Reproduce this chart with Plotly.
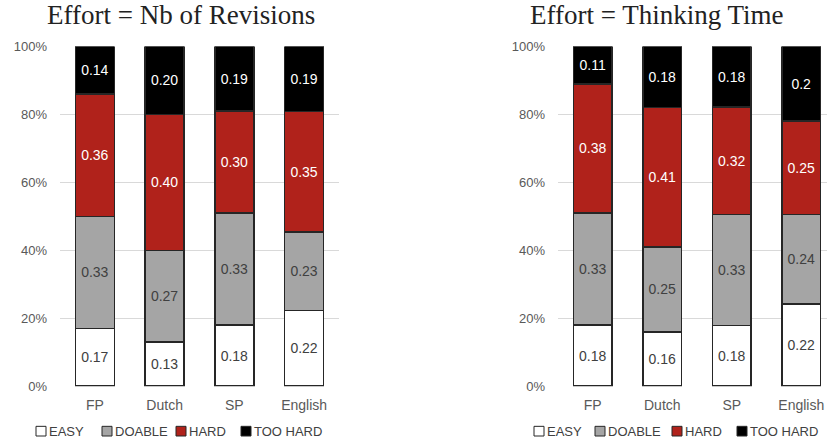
import plotly.graph_objects as go

categories = ["FP", "Dutch", "SP", "English"]
levels = ["EASY", "DOABLE", "HARD", "TOO HARD"]
colors = ["#ffffff", "#a5a5a5", "#b0221b", "#000000"]
label_colors = ["#404040", "#404040", "#ffffff", "#ffffff"]

# Effort measured as number of revisions
revisions = {
    "EASY": [0.17, 0.13, 0.18, 0.22],
    "DOABLE": [0.33, 0.27, 0.33, 0.23],
    "HARD": [0.36, 0.40, 0.30, 0.35],
    "TOO HARD": [0.14, 0.20, 0.19, 0.19],
}
# Effort measured as thinking time
thinking = {
    "EASY": [0.18, 0.16, 0.18, 0.22],
    "DOABLE": [0.33, 0.25, 0.33, 0.24],
    "HARD": [0.38, 0.41, 0.32, 0.25],
    "TOO HARD": [0.11, 0.18, 0.18, 0.2],
}
titles = ["Effort = Nb of Revisions", "Effort = Thinking Time"]

W, H = 827, 444
def px(x):
    return x / W
def py(y):
    return 1 - y / H

fig = go.Figure()
panels = [(revisions, "x", "y", lambda v: f"{v:.2f}"),
          (thinking, "x2", "y2", lambda v: f"{v:g}")]
for data, xa, ya, fmt in panels:
    for lvl, col, lcol in zip(levels, colors, label_colors):
        vals = data[lvl]
        fig.add_trace(go.Bar(
            x=categories, y=vals, name=lvl, xaxis=xa, yaxis=ya,
            marker=dict(color=col, line=dict(color="#262626", width=1.5)),
            text=[fmt(v) for v in vals], textposition="inside",
            insidetextanchor="middle", textangle=0,
            textfont=dict(family="Liberation Sans, Arial", size=14, color=lcol),
            showlegend=False,
        ))

axis_font = dict(family="Liberation Sans, Arial", size=13, color="#595959")
common_y = dict(range=[0, 1], dtick=0.2, tickformat=".0%", showgrid=True,
                gridcolor="#d9d9d9", gridwidth=1, zeroline=False, showline=False,
                ticks="", tickfont=axis_font, ticklabelstandoff=12,
                domain=[0.116, 0.908], fixedrange=True)
common_x = dict(type="category", showgrid=False, zeroline=False, showline=False,
                ticks="", tickfont=dict(family="Liberation Sans, Arial", size=14, color="#595959"),
                ticklabelstandoff=9)

fig.update_layout(
    width=W, height=H, margin=dict(l=0, r=0, t=0, b=0),
    paper_bgcolor="white", plot_bgcolor="white",
    barmode="stack", barnorm="fraction", bargap=0.44,
    xaxis=dict(domain=[px(60), px(339)], range=[-0.5, 3.5], **common_x),
    xaxis2=dict(domain=[px(558), 1.0], range=[-0.5, 3.37], **common_x),
    yaxis=dict(anchor="x", **common_y),
    yaxis2=dict(anchor="x2", **common_y),
    uniformtext=dict(minsize=10, mode="show"),
)

# Panel titles
for t, cx in zip(titles, [181, 657]):
    fig.add_annotation(text=t, x=px(cx), y=py(8), xref="paper", yref="paper",
                       xanchor="center", yanchor="middle", showarrow=False,
                       font=dict(family="Liberation Serif, serif", size=27, color="#222222"))

# Legends beneath each panel
legend_starts = [[36, 102, 176, 241], [534, 595, 672, 737]]
ly = 439
for starts in legend_starts:
    for lvl, col, sx in zip(levels, colors, starts):
        fig.add_shape(type="rect", xref="paper", yref="paper",
                      x0=px(sx), x1=px(sx + 10), y0=py(ly + 5), y1=py(ly - 5),
                      fillcolor=col, line=dict(color="#262626", width=1))
        fig.add_annotation(text=lvl, x=px(sx + 11), y=py(ly), xref="paper", yref="paper",
                           xanchor="left", yanchor="middle", showarrow=False,
                           font=dict(family="Liberation Sans, Arial", size=13, color="#404040"))

fig.write_html("out.html")
